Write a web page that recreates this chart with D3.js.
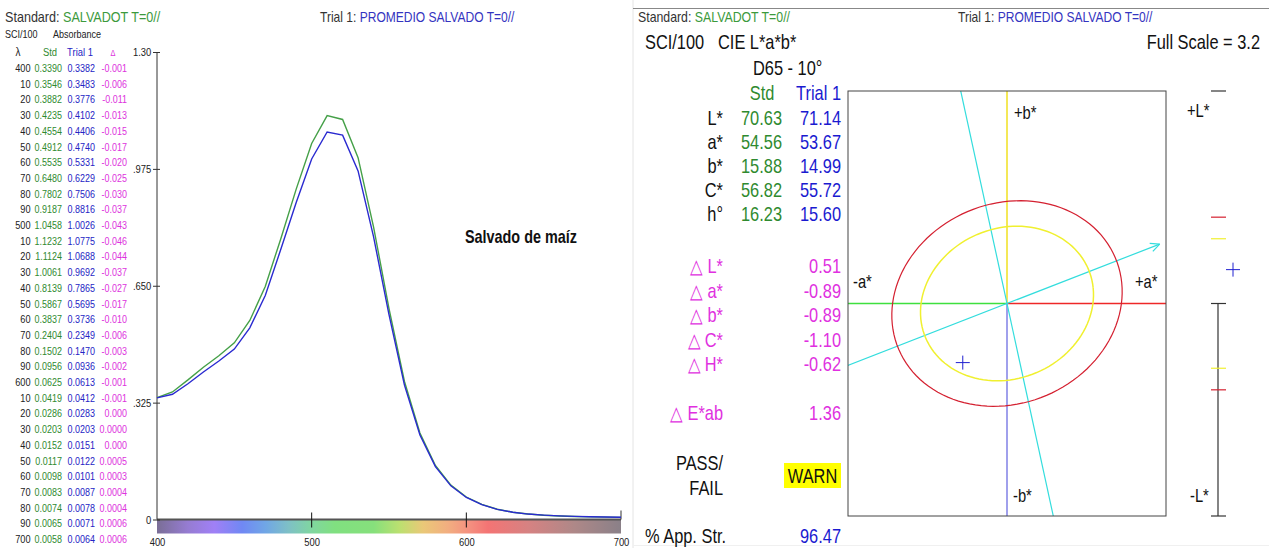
<!DOCTYPE html>
<html>
<head>
<meta charset="utf-8">
<script src="https://cdn.jsdelivr.net/npm/d3@7"></script>
<style>
  body { margin: 0; background: #fff; }
  svg { display: block; font-family: "Liberation Sans", Arial, sans-serif; }
</style>
</head>
<body>
<svg id="chart" width="1269" height="548"></svg>
<script>
// ---- spectral data (absorbance, SCI/100) ----
const wavelengths = [400,410,420,430,440,450,460,470,480,490,500,510,520,530,540,550,560,570,580,590,
                     600,610,620,630,640,650,660,670,680,690,700];
const stdAbs = [0.3390,0.3546,0.3882,0.4235,0.4554,0.4912,0.5535,0.6480,0.7802,0.9187,1.0458,1.1232,1.1124,1.0061,
                0.8139,0.5867,0.3837,0.2404,0.1502,0.0956,0.0625,0.0419,0.0286,0.0203,0.0152,0.0117,0.0098,0.0083,
                0.0074,0.0065,0.0058];
const trialAbs = [0.3382,0.3483,0.3776,0.4102,0.4406,0.4740,0.5331,0.6229,0.7506,0.8816,1.0026,1.0775,1.0688,0.9692,
                  0.7865,0.5695,0.3736,0.2349,0.1470,0.0936,0.0613,0.0412,0.0283,0.0203,0.0151,0.0122,0.0101,0.0087,
                  0.0078,0.0071,0.0064];
const deltaAbs = ["-0.001","-0.006","-0.011","-0.013","-0.015","-0.017","-0.020","-0.025","-0.030","-0.037",
                  "-0.043","-0.046","-0.044","-0.037","-0.027","-0.017","-0.010","-0.006","-0.003","-0.002",
                  "-0.001","-0.001","0.000","0.0000","0.000","0.0005","0.0003","0.0004","0.0004","0.0006","0.0006"];
const yTicks = [0, 0.325, 0.65, 0.975, 1.30];
const yTickLabels = ["0", ".325", ".650", ".975", "1.30"];
const xTicks = [400, 500, 600, 700];

// ---- colorimetric data (CIE L*a*b*, D65 - 10°) ----
const labNames = ["L*", "a*", "b*", "C*", "h°"];
const stdLab = [70.63, 54.56, 15.88, 56.82, 16.23];
const trialLab = [71.14, 53.67, 14.99, 55.72, 15.60];
const deltaNames = ["L*", "a*", "b*", "C*", "H*"];
const deltaLab = [0.51, -0.89, -0.89, -1.10, -0.62];
const deltaE = 1.36;
const appStrength = 96.47;
const fullScale = 3.2;
// tolerance ellipses: [major semi-axis, minor semi-axis, tilt deg, lightness]
const failTol = [2.33, 1.53, 7.7, 1.30];
const warnTol = [1.75, 1.15, 7.7, 0.975];

const GREEN = "#2f8a2f", BLUE = "#2424c4", MAG = "#dd33dd";
const SX = 0.82; // narrow face

const svg = d3.select("#chart");

function txt(parent, x, y, s, size, fill, anchor, weight, sx) {
  return parent.append("text")
    .attr("transform", `translate(${x},${y}) scale(${sx || SX},1)`)
    .attr("font-size", size).attr("fill", fill || "#111")
    .attr("text-anchor", anchor || "start")
    .attr("font-weight", weight || null)
    .text(s);
}
function header(x, label, value, color, sx) {
  const t = svg.append("text").attr("transform", `translate(${x},22) scale(${sx},1)`)
    .attr("font-size", 14).attr("fill", "#333");
  t.append("tspan").text(label);
  t.append("tspan").attr("fill", color).text(value);
}

// ================= LEFT PANEL: spectral curve =================
const x = d3.scaleLinear().domain([400, 700]).range([157, 621]);
const y = d3.scaleLinear().domain([0, 1.30]).range([519.5, 52]);

header(5, "Standard: ", "SALVADOT T=0//", "#3c9a3c", 0.9);
header(320, "Trial 1: ", "PROMEDIO SALVADO T=0//", "#3434c0", 0.86);
txt(svg, 5, 38, "SCI/100", 11, "#222");
txt(svg, 53, 38, "Absorbance", 11, "#222");

// table
txt(svg, 18, 56, "λ", 12, "#222", "middle");
txt(svg, 50, 56, "Std", 11.5, GREEN, "middle");
txt(svg, 80, 56, "Trial 1", 11.5, BLUE, "middle");
txt(svg, 113, 56, "Δ", 9, MAG, "middle");

const rowY = d3.scaleLinear().domain([0, wavelengths.length - 1]).range([72, 543]);
const table = svg.append("g");
wavelengths.forEach((w, i) => {
  const yy = rowY(i);
  txt(table, 30.5, yy, w % 100 === 0 ? w : String(w % 100), 11.5, "#222", "end", null, 0.8);
  txt(table, 62, yy, stdAbs[i].toFixed(4), 11.5, GREEN, "end", null, 0.78);
  txt(table, 95, yy, trialAbs[i].toFixed(4), 11.5, BLUE, "end", null, 0.78);
  txt(table, 127, yy, deltaAbs[i], 11.5, MAG, "end", null, 0.78);
});

// spectrum bar
const defs = svg.append("defs");
const spectrumStops = [[400,"#7a6e96"],[420,"#967cd2"],[437,"#a080f6"],[455,"#7088f4"],[470,"#70a6e6"],
  [485,"#7ec0c6"],[500,"#80d6a0"],[515,"#80e080"],[540,"#86e07c"],[557,"#bce070"],[572,"#eac878"],
  [588,"#f2ae80"],[602,"#f49080"],[614,"#f47474"],[640,"#d68282"],[670,"#ae8888"],[700,"#8a8088"]];
const grad = defs.append("linearGradient").attr("id", "spec")
  .attr("gradientUnits", "userSpaceOnUse").attr("x1", x(400)).attr("x2", x(700)).attr("y1", 0).attr("y2", 0);
grad.selectAll("stop").data(spectrumStops).join("stop")
  .attr("offset", d => (d[0] - 400) / 300).attr("stop-color", d => d[1]);
svg.append("rect").attr("x", x(400)).attr("y", y(0)).attr("width", x(700) - x(400)).attr("height", 14)
  .attr("fill", "url(#spec)");
svg.append("line").attr("x1", x(400)).attr("x2", x(700)).attr("y1", y(0)).attr("y2", y(0))
  .attr("stroke", "#555").attr("stroke-width", 2);

// x axis
const xAxis = svg.append("g").attr("transform", `translate(0,${y(0) + 14})`)
  .call(d3.axisBottom(x).tickValues(xTicks).tickSize(0).tickPadding(4));
xAxis.select(".domain").remove();
xAxis.selectAll("text").attr("font-size", 11.5).attr("fill", "#222").attr("font-family", null)
  .attr("transform", `scale(${SX},1)`);
svg.selectAll(".xt").data([500, 600]).join("line").attr("class", "xt")
  .attr("x1", d => x(d)).attr("x2", d => x(d)).attr("y1", y(0) - 7).attr("y2", y(0) + 8)
  .attr("stroke", "#111");
svg.append("line").attr("x1", x(700)).attr("x2", x(700)).attr("y1", y(0) - 9).attr("y2", y(0))
  .attr("stroke", "#333");

// y axis
const yAxis = svg.append("g").attr("transform", `translate(${x(400)},0)`)
  .call(d3.axisLeft(y).tickValues(yTicks).tickFormat((d, i) => yTickLabels[i]).tickSize(4).tickPadding(3));
yAxis.select(".domain").attr("d", `M0,${y(1.30)}V${y(0)}`).attr("stroke", "#333");
yAxis.selectAll(".tick line").attr("x1", -4).attr("x2", 3).attr("stroke", "#333");
yAxis.selectAll("text").attr("font-size", 11.5).attr("fill", "#222").attr("font-family", null)
  .attr("x", -7).attr("transform", `scale(${SX},1)`);

// curves
const line = d3.line().x((d, i) => x(wavelengths[i])).y(d => y(d));
svg.append("path").attr("d", line(stdAbs)).attr("fill", "none").attr("stroke", "#45a048").attr("stroke-width", 1.4);
svg.append("path").attr("d", line(trialAbs)).attr("fill", "none").attr("stroke", "#2a2ad0").attr("stroke-width", 1.4);

txt(svg, 465, 243, "Salvado de maíz", 18, "#111", "start", "bold", 0.8);

// ================= RIGHT PANEL: CIELAB =================
svg.append("line").attr("x1", 633).attr("x2", 633).attr("y1", 0).attr("y2", 548).attr("stroke", "#e4e4e4");
svg.append("line").attr("x1", 633).attr("x2", 1269).attr("y1", 8.5).attr("y2", 8.5).attr("stroke", "#888");
svg.append("line").attr("x1", 633).attr("x2", 1269).attr("y1", 545.5).attr("y2", 545.5).attr("stroke", "#f0f0f0");

header(638, "Standard: ", "SALVADOT T=0//", "#3c9a3c", 0.88);
header(958, "Trial 1: ", "PROMEDIO SALVADO T=0//", "#3434c0", 0.86);

const TB = "#1a1ad0", TM = "#e030e0";
const big = svg.append("g");
txt(big, 645, 49, "SCI/100", 20);
txt(big, 718, 49, "CIE L*a*b*", 20);
txt(big, 1260, 49, `Full Scale = ${fullScale}`, 20, "#111", "end");
txt(big, 753, 75, "D65 - 10°", 20);
txt(big, 762, 100, "Std", 20, GREEN, "middle");
txt(big, 841, 100, "Trial 1", 20, TB, "end");

labNames.forEach((n, i) => {
  const yy = 125 + i * 24;
  txt(big, 723, yy, n, 20, "#111", "end");
  txt(big, 782, yy, stdLab[i].toFixed(2), 20, GREEN, "end");
  txt(big, 841, yy, trialLab[i].toFixed(2), 20, TB, "end");
});
deltaNames.forEach((n, i) => {
  const yy = 273 + i * 24.5;
  txt(big, 723, yy, "△ " + n, 20, TM, "end");
  txt(big, 841, yy, deltaLab[i].toFixed(2), 20, TM, "end");
});
txt(big, 723, 420, "△ E*ab", 20, TM, "end");
txt(big, 841, 420, deltaE.toFixed(2), 20, TM, "end");

txt(big, 723, 470, "PASS/", 20, "#111", "end");
txt(big, 723, 495, "FAIL", 20, "#111", "end");
big.append("rect").attr("x", 784).attr("y", 463).attr("width", 57).attr("height", 25).attr("fill", "#ffff00");
txt(big, 812.5, 483, "WARN", 20, "#111", "middle");

txt(big, 645, 543, "% App. Str.", 20);
txt(big, 841, 543, appStrength.toFixed(2), 20, TB, "end");

// a*b* plot
const a = d3.scaleLinear().domain([-fullScale, fullScale]).range([848, 1166]);
const b = d3.scaleLinear().domain([-fullScale, fullScale]).range([516, 91]);
const L = b; // lightness bar shares the vertical scale

defs.append("clipPath").attr("id", "box").append("rect")
  .attr("x", a(-fullScale)).attr("y", b(fullScale)).attr("width", a(fullScale) - a(-fullScale))
  .attr("height", b(-fullScale) - b(fullScale));

const plot = svg.append("g");
plot.append("line").attr("x1", a(-fullScale)).attr("x2", a(0)).attr("y1", b(0)).attr("y2", b(0)).attr("stroke", "#3ee03e").attr("stroke-width", 1.6);
plot.append("line").attr("x1", a(0)).attr("x2", a(fullScale)).attr("y1", b(0)).attr("y2", b(0)).attr("stroke", "#ee2828").attr("stroke-width", 1.6);
plot.append("line").attr("x1", a(0)).attr("x2", a(0)).attr("y1", b(fullScale)).attr("y2", b(0)).attr("stroke", "#f0e020").attr("stroke-width", 1.5);
plot.append("line").attr("x1", a(0)).attr("x2", a(0)).attr("y1", b(0)).attr("y2", b(-fullScale)).attr("stroke", "#8080e6").attr("stroke-width", 1.5);

// hue direction lines (standard hue)
const hr = stdLab[4] * Math.PI / 180;
const ux = Math.cos(hr), uy = Math.sin(hr);
const cyan = plot.append("g").attr("clip-path", "url(#box)").attr("stroke", "#33dddd").attr("stroke-width", 1.2);
cyan.append("line").attr("x1", a(-4 * ux)).attr("y1", b(-4 * uy)).attr("x2", a(fullScale * ux)).attr("y2", b(fullScale * uy));
cyan.append("line").attr("x1", a(5 * uy)).attr("y1", b(-5 * ux)).attr("x2", a(-5 * uy)).attr("y2", b(5 * ux));
const tipX = a(fullScale * ux), tipY = b(fullScale * uy);
const ang = Math.atan2(tipY - b(0), tipX - a(0));
[-0.45, 0.45].forEach(o => {
  plot.append("line").attr("x1", tipX).attr("y1", tipY)
    .attr("x2", tipX - 10 * Math.cos(ang + o)).attr("y2", tipY - 10 * Math.sin(ang + o))
    .attr("stroke", "#33dddd").attr("stroke-width", 1.2);
});

// tolerance ellipses
function ellipse(tol) {
  const t0 = tol[2] * Math.PI / 180, cx = Math.cos(t0), cy = Math.sin(t0);
  const pts = d3.range(0, 361, 3).map(t => {
    const r = t * Math.PI / 180;
    const p = tol[0] * Math.cos(r), q = tol[1] * Math.sin(r);
    return [a(p * cx - q * cy), b(p * cy + q * cx)];
  });
  return d3.line()(pts);
}
plot.append("path").attr("d", ellipse(failTol)).attr("fill", "none").attr("stroke", "#d42030").attr("stroke-width", 1.2);
plot.append("path").attr("d", ellipse(warnTol)).attr("fill", "none").attr("stroke", "#f0f030").attr("stroke-width", 1.5);

function cross(g, cx, cy) {
  g.append("line").attr("x1", cx - 7).attr("x2", cx + 7).attr("y1", cy).attr("y2", cy).attr("stroke", "#2020d0");
  g.append("line").attr("x1", cx).attr("x2", cx).attr("y1", cy - 7).attr("y2", cy + 7).attr("stroke", "#2020d0");
}
cross(plot, a(deltaLab[1]), b(deltaLab[2]));

plot.append("rect").attr("x", a(-fullScale)).attr("y", b(fullScale))
  .attr("width", a(fullScale) - a(-fullScale)).attr("height", b(-fullScale) - b(fullScale))
  .attr("fill", "none").attr("stroke", "#444");

const axl = svg.append("g");
txt(axl, 1014, 119, "+b*", 18);
txt(axl, 1013, 502, "-b*", 18);
txt(axl, 853, 288, "-a*", 18);
txt(axl, 1135, 288, "+a*", 18);
txt(axl, 1187, 117, "+L*", 18);
txt(axl, 1190, 502, "-L*", 18);

// lightness bar
const lx = 1218;
const lb = svg.append("g").attr("stroke-width", 1.2);
lb.append("line").attr("x1", lx).attr("x2", lx).attr("y1", L(0)).attr("y2", L(-fullScale)).attr("stroke", "#333");
[[fullScale, "#333"], [0, "#333"], [-fullScale, "#333"],
 [failTol[3], "#d42030"], [-failTol[3], "#d42030"],
 [warnTol[3], "#f0f030"], [-warnTol[3], "#f0f030"]].forEach(([v, c]) => {
  lb.append("line").attr("x1", lx - 7).attr("x2", lx + 8).attr("y1", L(v)).attr("y2", L(v)).attr("stroke", c);
});
cross(svg, 1233, L(deltaLab[0]));
</script>
</body>
</html>
